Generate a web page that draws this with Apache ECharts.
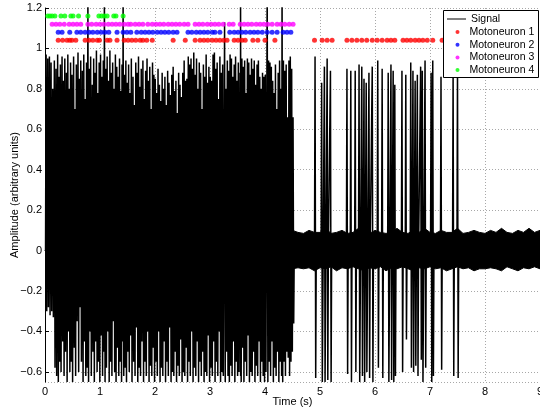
<!DOCTYPE html>
<html><head><meta charset="utf-8">
<script src="https://cdn.jsdelivr.net/npm/echarts@6/dist/echarts.min.js"></script>
<style>html,body{margin:0;padding:0;background:#fff}#c{width:540px;height:410px}</style>
</head><body><div id="c"></div>
<script>
// ---- Signal spikes (time s, peak, trough) ----
const sigTime = [
 0.02,0.05,0.08,0.11,0.14,0.17,0.20,0.23,0.255,0.28,0.31,0.335,0.36,0.39,0.415,0.44,0.465,0.49,
 0.52,0.545,0.57,0.60,0.625,0.65,0.68,0.705,0.73,0.755,0.78,0.805,0.83,0.86,0.885,0.91,0.935,0.96,0.985,
 1.01,1.035,1.06,1.08,1.105,1.13,1.155,1.18,1.205,1.23,1.255,1.28,1.305,1.33,1.355,1.38,1.40,1.42,1.445,1.47,1.495,
 1.52,1.545,1.57,1.60,1.625,1.65,1.675,1.70,1.725,1.75,1.78,1.805,1.83,1.855,1.88,1.905,1.93,1.955,1.98,
 2.005,2.03,2.055,2.08,2.105,2.13,2.155,2.18,2.205,2.23,2.255,2.28,2.305,2.33,2.355,2.38,2.405,2.43,2.455,2.48,
 2.505,2.53,2.555,2.58,2.605,2.63,2.655,2.68,2.705,2.73,2.755,2.78,2.805,2.83,2.855,2.88,2.905,2.93,2.955,2.98,
 3.005,3.03,3.055,3.08,3.105,3.13,3.155,3.18,3.205,3.23,3.265,3.29,3.315,3.34,3.365,3.39,3.415,3.44,3.465,3.49,
 3.515,3.545,3.555,3.58,3.605,3.63,3.655,3.68,3.705,3.73,3.755,3.78,3.805,3.83,3.855,3.88,3.905,3.93,3.955,3.98,
 4.005,4.04,4.065,4.09,4.115,4.14,4.165,4.19,4.215,4.24,4.265,4.29,4.31,4.335,4.36,4.385,4.41,4.435,4.46,4.485,4.51,
 4.91,5.03,5.08,5.13,5.19,5.49,5.56,5.64,5.71,5.76,5.80,5.84,5.89,5.95,6.05,6.13,6.24,6.29,6.33,6.36,
 6.49,6.56,6.65,6.69,6.73,6.77,6.83,6.86,6.91,7.02,7.05,7.20,7.42,7.50
];
const sigPeak = [
 0.97,0.95,0.96,0.93,0.80,0.94,0.90,0.97,0.86,0.92,0.96,0.84,0.95,0.88,0.97,0.80,0.93,0.87,
 0.96,0.70,0.92,0.98,0.85,0.94,0.89,0.97,0.75,0.93,1.30,0.90,0.96,0.82,0.95,0.88,0.99,0.78,0.93,
 0.97,0.86,0.94,1.35,0.90,0.96,0.84,0.99,0.88,0.93,0.80,0.97,0.91,0.86,0.95,0.79,0.92,1.30,0.87,0.94,0.83,
 0.92,0.78,0.95,0.86,0.72,0.93,0.88,0.96,0.81,0.90,0.94,0.75,0.89,0.95,0.84,0.91,0.70,0.93,0.87,
 0.85,0.78,0.90,0.82,0.74,0.88,0.80,0.86,0.72,0.89,0.83,0.77,0.87,0.91,0.79,0.84,0.68,0.88,0.82,0.76,
 0.88,0.94,0.84,0.85,0.96,0.92,0.95,0.90,0.98,0.87,0.95,0.80,0.93,0.88,0.70,0.92,0.86,0.97,0.83,0.91,
 0.86,0.84,0.97,0.98,0.90,0.93,0.75,0.96,0.88,0.92,1.13,0.80,0.94,0.89,0.97,0.95,0.86,0.92,0.96,0.84,
 0.93,0.88,1.35,0.95,0.91,0.94,0.78,0.95,0.93,0.87,0.95,0.90,0.94,0.82,0.92,0.94,0.86,0.80,0.88,0.86,
 0.87,1.35,0.94,0.93,0.91,0.84,0.78,0.92,0.70,0.88,0.94,0.80,1.35,0.94,0.89,0.92,0.66,0.94,0.96,0.90,0.66,
 0.96,0.83,0.91,0.95,0.89,0.90,0.89,0.89,0.92,0.91,0.85,0.83,0.88,0.91,0.94,0.90,0.88,0.92,0.89,0.82,
 0.89,0.87,0.93,0.89,0.84,0.87,0.91,0.89,0.94,0.88,0.94,0.86,0.90,0.90
];
const sigTrough = [
 -0.30,-0.28,-0.32,-0.30,-0.33,-0.58,-0.62,-0.65,-0.55,-0.60,-0.45,-0.62,-0.50,-0.65,-0.40,-0.60,-0.55,-0.65,
 -0.48,-0.62,-0.35,-0.60,-0.28,-0.55,-0.65,-0.45,-0.62,-0.58,-0.65,-0.40,-0.62,-0.50,-0.65,-0.45,-0.60,-0.55,-0.65,
 -0.42,-0.62,-0.50,-0.65,-0.58,-0.40,-0.65,-0.55,-0.62,-0.35,-0.60,-0.65,-0.48,-0.62,-0.55,-0.65,-0.45,-0.62,-0.58,-0.65,-0.50,
 -0.60,-0.42,-0.65,-0.55,-0.62,-0.38,-0.65,-0.58,-0.62,-0.45,-0.65,-0.55,-0.62,-0.40,-0.65,-0.57,-0.62,-0.48,-0.65,
 -0.55,-0.62,-0.40,-0.65,-0.58,-0.62,-0.45,-0.65,-0.55,-0.62,-0.38,-0.65,-0.60,-0.62,-0.50,-0.65,-0.57,-0.62,-0.44,-0.65,
 -0.60,-0.62,-0.48,-0.65,-0.55,-0.62,-0.40,-0.65,-0.58,-0.62,-0.45,-0.65,-0.55,-0.62,-0.50,-0.65,-0.60,-0.62,-0.42,-0.65,
 -0.58,-0.62,-0.45,-0.65,-0.55,-0.62,-0.40,-0.65,-0.60,-0.62,-0.65,-0.50,-0.62,-0.65,-0.57,-0.62,-0.45,-0.65,-0.55,-0.62,
 -0.60,-0.62,-0.65,-0.48,-0.65,-0.55,-0.62,-0.42,-0.65,-0.60,-0.62,-0.50,-0.65,-0.57,-0.62,-0.45,-0.65,-0.55,-0.62,-0.65,
 -0.60,-0.65,-0.55,-0.62,-0.45,-0.65,-0.58,-0.62,-0.50,-0.65,-0.55,-0.62,-0.65,-0.55,-0.62,-0.50,-0.53,-0.62,-0.55,-0.50,-0.36,
 -0.63,-0.65,-0.65,-0.64,-0.65,-0.61,-0.65,-0.60,-0.65,-0.62,-0.65,-0.60,-0.63,-0.65,-0.58,-0.63,-0.65,-0.64,-0.65,-0.62,
 -0.60,-0.44,-0.58,-0.60,-0.57,-0.62,-0.54,-0.65,-0.58,-0.65,-0.62,-0.59,-0.62,-0.63
];
// ---- Baseline noise envelope ----
const noiseTime = [
 0,0.1,0.2,0.3,0.4,0.5,0.6,0.7,0.8,0.9,1.0,1.1,1.2,1.3,1.4,1.5,1.6,1.7,1.8,1.9,
 2.0,2.1,2.2,2.3,2.4,2.5,2.6,2.7,2.8,2.9,3.0,3.1,3.2,3.3,3.4,3.5,3.6,3.7,3.8,3.9,
 4.0,4.1,4.2,4.3,4.4,4.5,4.6,4.7,4.8,4.9,5.0,5.1,5.2,5.3,5.4,5.5,5.6,5.7,5.8,5.9,
 6.0,6.1,6.2,6.3,6.4,6.5,6.6,6.7,6.8,6.9,7.0,7.1,7.2,7.3,7.4,7.5,7.6,7.7,7.8,7.9,
 8.0,8.1,8.2,8.3,8.4,8.5,8.6,8.7,8.8,8.9,9.0
];
const noiseUpper = [
 0.12,0.13,0.11,0.12,0.14,0.12,0.11,0.13,0.12,0.12,
 0.13,0.11,0.12,0.14,0.12,0.11,0.12,0.13,0.11,0.12,
 0.12,0.13,0.11,0.12,0.12,0.14,0.11,0.12,0.13,0.12,
 0.11,0.12,0.13,0.12,0.11,0.12,0.14,0.12,0.11,0.12,
 0.13,0.12,0.11,0.12,0.12,0.10,0.09,0.085,0.10,0.09,
 0.09,0.11,0.085,0.09,0.10,0.085,0.09,0.11,0.09,0.085,
 0.10,0.09,0.085,0.09,0.11,0.09,0.085,0.10,0.09,0.11,
 0.09,0.085,0.10,0.09,0.09,0.11,0.085,0.09,0.10,0.09,
 0.085,0.10,0.09,0.11,0.09,0.085,0.10,0.09,0.11,0.09,
 0.10
];
const noiseLower = [
 -0.11,-0.12,-0.10,-0.12,-0.11,-0.13,-0.11,-0.12,-0.10,-0.12,
 -0.12,-0.11,-0.13,-0.11,-0.12,-0.10,-0.12,-0.11,-0.13,-0.11,
 -0.11,-0.12,-0.10,-0.13,-0.11,-0.12,-0.11,-0.10,-0.12,-0.11,
 -0.12,-0.11,-0.13,-0.11,-0.12,-0.10,-0.12,-0.11,-0.12,-0.11,
 -0.12,-0.11,-0.12,-0.10,-0.11,-0.09,-0.085,-0.09,-0.085,-0.10,
 -0.085,-0.09,-0.08,-0.10,-0.085,-0.09,-0.08,-0.09,-0.10,-0.085,
 -0.09,-0.08,-0.10,-0.085,-0.09,-0.08,-0.09,-0.10,-0.085,-0.09,
 -0.08,-0.09,-0.085,-0.10,-0.09,-0.08,-0.09,-0.085,-0.10,-0.09,
 -0.09,-0.085,-0.09,-0.10,-0.08,-0.09,-0.10,-0.085,-0.09,-0.08,
 -0.09
];
// ---- Motoneuron firing times (s) and display levels ----
const mn1Times = [0.24,0.32,0.40,0.45,0.49,0.56,0.73,0.80,0.87,0.95,0.99,1.13,1.18,1.31,1.44,1.51,1.58,1.65,1.73,1.78,1.85,1.95,2.33,2.55,2.73,2.82,2.89,2.96,3.04,3.11,3.18,3.25,3.31,3.44,3.51,3.58,3.64,3.78,3.87,4.00,4.18,4.90,5.04,5.13,5.22,5.49,5.58,5.67,5.76,5.85,5.95,6.04,6.13,6.22,6.29,6.36,6.51,6.58,6.65,6.73,6.80,6.87,6.95,7.05,7.22,7.42,7.50];
const mn2Times = [0.24,0.31,0.45,0.58,0.65,0.73,0.80,0.87,0.95,1.02,1.09,1.16,1.31,1.42,1.49,1.56,1.67,1.75,1.82,1.89,1.96,2.04,2.11,2.18,2.25,2.33,2.40,2.60,2.67,2.75,2.82,2.89,2.96,3.04,3.09,3.18,3.36,3.44,3.51,3.58,3.65,3.73,3.80,3.87,3.95,4.04,4.13,4.22,4.33,4.40,4.47];
const mn3Times = [0.13,0.20,0.27,0.35,0.44,0.51,0.58,0.65,0.78,0.85,0.93,1.00,1.07,1.15,1.22,1.29,1.36,1.44,1.51,1.56,1.64,1.71,1.78,1.87,1.95,2.02,2.09,2.16,2.24,2.31,2.38,2.45,2.53,2.60,2.73,2.80,2.87,2.95,3.02,3.09,3.16,3.24,3.35,3.42,3.55,3.62,3.69,3.76,3.84,3.91,3.98,4.05,4.13,4.22,4.29,4.36,4.44,4.51];
const mn4Times = [0.05,0.09,0.13,0.18,0.29,0.36,0.47,0.51,0.61,0.78,0.98,1.03,1.08,1.13,1.25,1.29,1.42];
const mnLevels = [1.04, 1.08, 1.12, 1.16];
const mnNames = ['Motoneuron 1','Motoneuron 2','Motoneuron 3','Motoneuron 4'];
const mnColors = ['#ff0000','#0000ff','#ff00ff','#00ff00'];
const xTicks = [0,1,2,3,4,5,6,7,8,9];

// ---- build series data ----
const signalData = [];
const nS = sigTime.length;
for (let i = 0; i < nS; i++) {
  const t = sigTime[i];
  const prevGap = i > 0 ? t - sigTime[i - 1] : 1;
  const nextGap = i < nS - 1 ? sigTime[i + 1] - t : 1;
  if (prevGap > 0.05) signalData.push([t - 0.01, 0]);
  signalData.push([t, sigPeak[i]], [t + 0.012, sigTrough[i]]);
  if (nextGap > 0.05) signalData.push([t + 0.022, 0]);
}
const bandUp = noiseTime.map((t, i) => [t, noiseUpper[i]]);
const bandLow = noiseTime.map((t, i) => [t, noiseLower[i]]);
const mnTimes = [mn1Times, mn2Times, mn3Times, mn4Times];

const FONT = 'Liberation Sans, Arial, Helvetica, sans-serif';
const chart = echarts.init(document.getElementById('c'), null, {renderer: 'canvas'});
const series = [
  {name: 'noiseUp', type: 'line', data: bandUp, symbol: 'none', silent: true,
   lineStyle: {color: '#000', width: 1}, areaStyle: {color: '#000', opacity: 1, origin: 0}, z: 1},
  {name: 'noiseLow', type: 'line', data: bandLow, symbol: 'none', silent: true,
   lineStyle: {color: '#000', width: 1}, areaStyle: {color: '#000', opacity: 1, origin: 0}, z: 1},
  {name: 'Signal', type: 'line', data: signalData, symbol: 'none', showSymbol: false, sampling: false,
   lineStyle: {color: '#000', width: 1.5}, itemStyle: {color: '#000'}, z: 2}
];
mnTimes.forEach((arr, k) => {
  series.push({name: mnNames[k], type: 'scatter', symbol: 'circle', symbolSize: 5,
    data: arr.map(t => [t, mnLevels[k]]), itemStyle: {color: mnColors[k]}, z: 3});
});

chart.setOption({
  animation: false,
  backgroundColor: '#fff',
  grid: {left: 45, right: 0, top: 8, bottom: 28, containLabel: false, outerBoundsMode: 'none'},
  xAxis: {
    type: 'value', min: xTicks[0], max: xTicks[xTicks.length - 1], interval: 1,
    name: 'Time (s)', nameLocation: 'middle', nameGap: 14, nameMoveOverlap: false,
    nameTextStyle: {fontFamily: FONT, fontSize: 11, color: '#000'},
    axisLine: {lineStyle: {color: '#000', width: 1}},
    axisTick: {inside: true, length: 4, lineStyle: {color: '#000'}},
    axisLabel: {fontFamily: FONT, fontSize: 11, color: '#000', margin: 4},
    splitLine: {show: true, lineStyle: {color: '#a8a8a8', type: [1, 2], width: 1}}
  },
  yAxis: {
    type: 'value', min: -0.65, max: 1.2, splitNumber: 9, minInterval: 0.2, maxInterval: 0.2,
    name: 'Amplitude (arbitrary units)', nameLocation: 'middle', nameGap: 25, nameMoveOverlap: false,
    nameTextStyle: {fontFamily: FONT, fontSize: 11, color: '#000'},
    axisLine: {show: true, lineStyle: {color: '#000', width: 1}},
    axisTick: {show: true, inside: true, length: 4, lineStyle: {color: '#000'}},
    axisLabel: {fontFamily: FONT, fontSize: 11, color: '#000', margin: 3, showMinLabel: false,
      formatter: v => (Math.abs(v * 5 - Math.round(v * 5)) > 1e-6) ? '' : String(+v.toFixed(1)).replace('-', '\u2212')},
    splitLine: {show: true, lineStyle: {color: '#a8a8a8', type: [1, 2], width: 1}}
  },
  legend: [
    {data: [{name: 'Signal', icon: 'rect'}], orient: 'vertical', left: 447, top: 13, itemWidth: 19, itemHeight: 1, padding: 0,
     selectedMode: false, z: 6, itemStyle: {color: '#000'},
     textStyle: {fontFamily: FONT, fontSize: 10.5, color: '#000', lineHeight: 12}},
    {data: mnNames, orient: 'vertical', left: 455.5, top: 26, itemWidth: 4, itemHeight: 4, itemGap: 0.7,
     icon: 'circle', padding: 0, selectedMode: false, z: 6,
     textStyle: {fontFamily: FONT, fontSize: 10.5, color: '#000', lineHeight: 12, padding: [0, 0, 0, 5]}}
  ],
  graphic: [{type: 'rect', z: 5, silent: true,
    shape: {x: 443.5, y: 10.5, width: 95, height: 67},
    style: {fill: '#fff', stroke: '#000', lineWidth: 1}}],
  series: series
});
</script></body></html>
